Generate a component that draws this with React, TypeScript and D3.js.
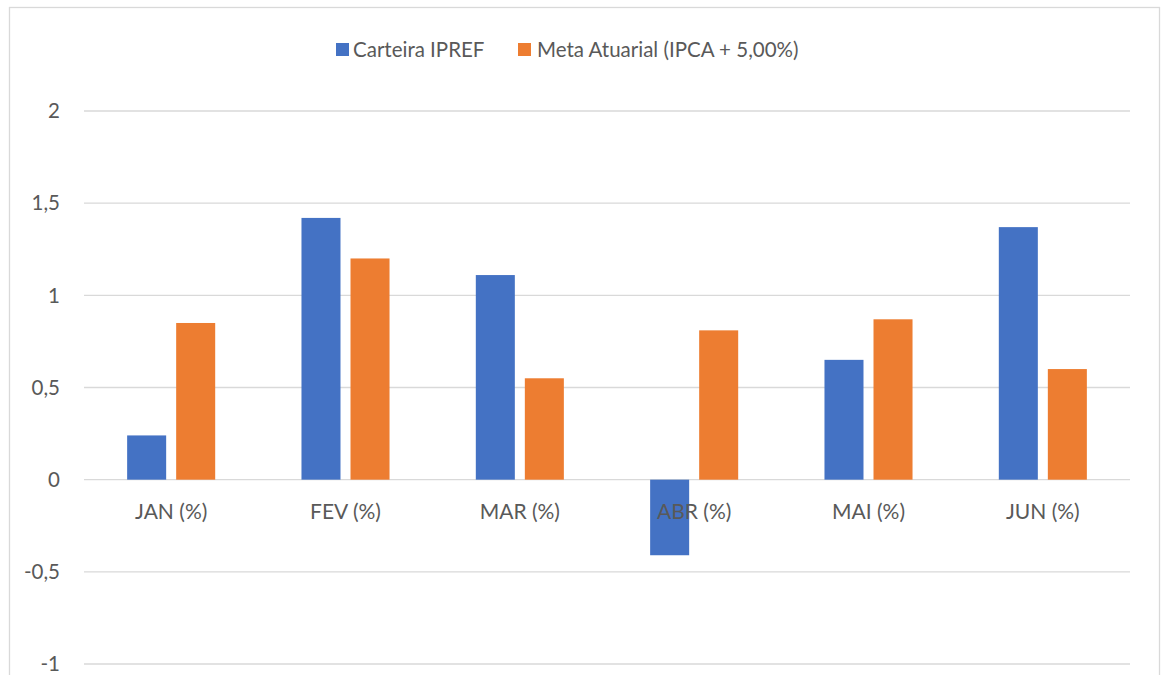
import React from "react";
import * as d3 from "d3";

const categories = ["JAN (%)", "FEV (%)", "MAR (%)", "ABR (%)", "MAI (%)", "JUN (%)"];
const seriesNames = ["Carteira IPREF", "Meta Atuarial (IPCA + 5,00%)"];
const carteira = [0.24, 1.42, 1.11, -0.41, 0.65, 1.37];
const meta = [0.85, 1.2, 0.55, 0.81, 0.87, 0.6];
const yTicks = [-1, -0.5, 0, 0.5, 1, 1.5, 2];
const colors = ["#4472C4", "#ED7D31"];

const W = 1161;
const H = 675;
const FONT = "Lato, 'Open Sans', sans-serif";
const TXT = "#595959";

export default function App() {
  const x0 = d3.scaleBand<string>().domain(categories).range([84, 1130]).padding(0);
  const x1 = d3
    .scaleBand<string>()
    .domain(seriesNames)
    .range([0, x0.bandwidth()])
    .paddingInner(10 / 49)
    .paddingOuter(0.88);
  const y = d3.scaleLinear().domain([-1, 2]).range([664, 111]);
  const fmt = (v: number) => String(v).replace(".", ",");
  const values = [carteira, meta];

  return (
    <svg
      width={W}
      height={H}
      style={{ position: "absolute", left: 0, top: 0, background: "#fff" }}
    >
      <rect x={9.5} y={7.5} width={1150} height={720} fill="#fff" stroke="#d9d9d9" strokeWidth={1.3} />
      {yTicks.map((t) => (
        <g key={t}>
          <line x1={84} x2={1130} y1={y(t)} y2={y(t)} stroke="#d9d9d9" strokeWidth={1.3} />
          <text
            x={60}
            y={y(t)}
            dy="0.35em"
            textAnchor="end"
            fontFamily={FONT}
            fontSize={20.5}
            fill={TXT}
          >
            {fmt(t)}
          </text>
        </g>
      ))}
      {categories.map((c, i) => (
        <g key={c} transform={`translate(${x0(c)},0)`}>
          {seriesNames.map((s, k) => {
            const v = values[k][i];
            return (
              <rect
                key={s}
                x={x1(s)}
                y={Math.min(y(v), y(0))}
                width={x1.bandwidth()}
                height={Math.abs(y(v) - y(0))}
                fill={colors[k]}
              />
            );
          })}
        </g>
      ))}
      {categories.map((c) => (
        <text
          key={c}
          x={(x0(c) as number) + x0.bandwidth() / 2}
          y={512}
          dy="0.35em"
          textAnchor="middle"
          fontFamily={FONT}
          fontSize={21}
          fill={TXT}
        >
          {c}
        </text>
      ))}
      <g>
        <rect x={336} y={43} width={13} height={13} fill={colors[0]} />
        <text x={353} y={49.5} dy="0.35em" fontFamily={FONT} fontSize={20.5} fill={TXT}>
          {seriesNames[0]}
        </text>
        <rect x={518} y={43} width={13} height={13} fill={colors[1]} />
        <text x={537} y={49.5} dy="0.35em" fontFamily={FONT} fontSize={20.5} fill={TXT}>
          {seriesNames[1]}
        </text>
      </g>
    </svg>
  );
}
